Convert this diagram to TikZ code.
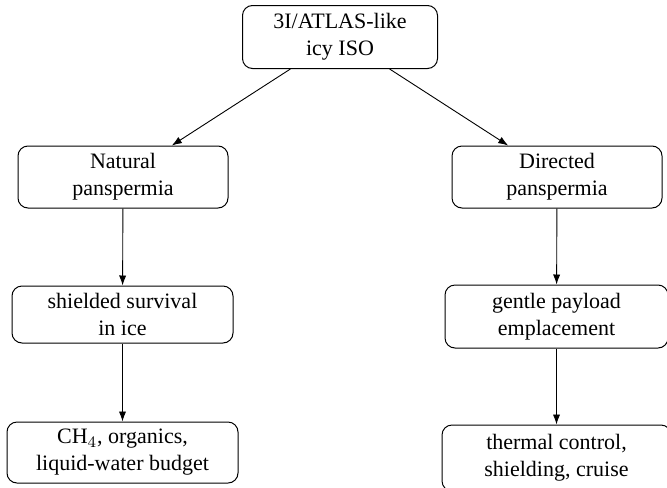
\documentclass[tikz,border=0pt]{standalone}
\usepackage{fontspec}
\setmainfont{Liberation Serif}
\usetikzlibrary{arrows.meta}
\begin{document}
\begin{tikzpicture}[x=0.5pt,y=-0.5pt,
  box/.style={draw, rounded corners=5pt, line width=0.5pt, align=center, inner sep=0pt,
    font=\fontsize{11}{13.5}\selectfont},
  conn/.style={-{Latex[length=5pt,width=3.6pt]}, line width=0.45pt}]
\useasboundingbox (0,0) rectangle (667,487);
\node[box, minimum width=97.5pt, minimum height=31.5pt] (iso) at (340,37) {3I/ATLAS-like\\icy ISO};
\node[box, minimum width=105pt, minimum height=31pt] (nat) at (123,177) {Natural\\panspermia};
\node[box, minimum width=105pt, minimum height=31pt] (dir) at (557,177) {Directed\\panspermia};
\node[box, minimum width=110.5pt, minimum height=28.5pt] (surv) at (122.5,314.5) {shielded survival\\in ice};
\node[box, minimum width=111.5pt, minimum height=31.5pt] (gent) at (556.5,316.5) {gentle payload\\emplacement};
\node[box, minimum width=115.5pt, minimum height=30.5pt] (ch) at (122.5,452.5) {CH$_4$, organics,\\liquid-water budget};
\node[box, minimum width=114.5pt, minimum height=33pt] (therm) at (556.5,458) {thermal control,\\shielding, cruise};
\draw[conn] (iso) -- (nat);
\draw[conn] (iso) -- (dir);
\draw[conn] (nat) -- (surv);
\draw[conn] (dir) -- (gent);
\draw[conn] (surv) -- (ch);
\draw[conn] (gent) -- (therm);
\end{tikzpicture}
\end{document}
